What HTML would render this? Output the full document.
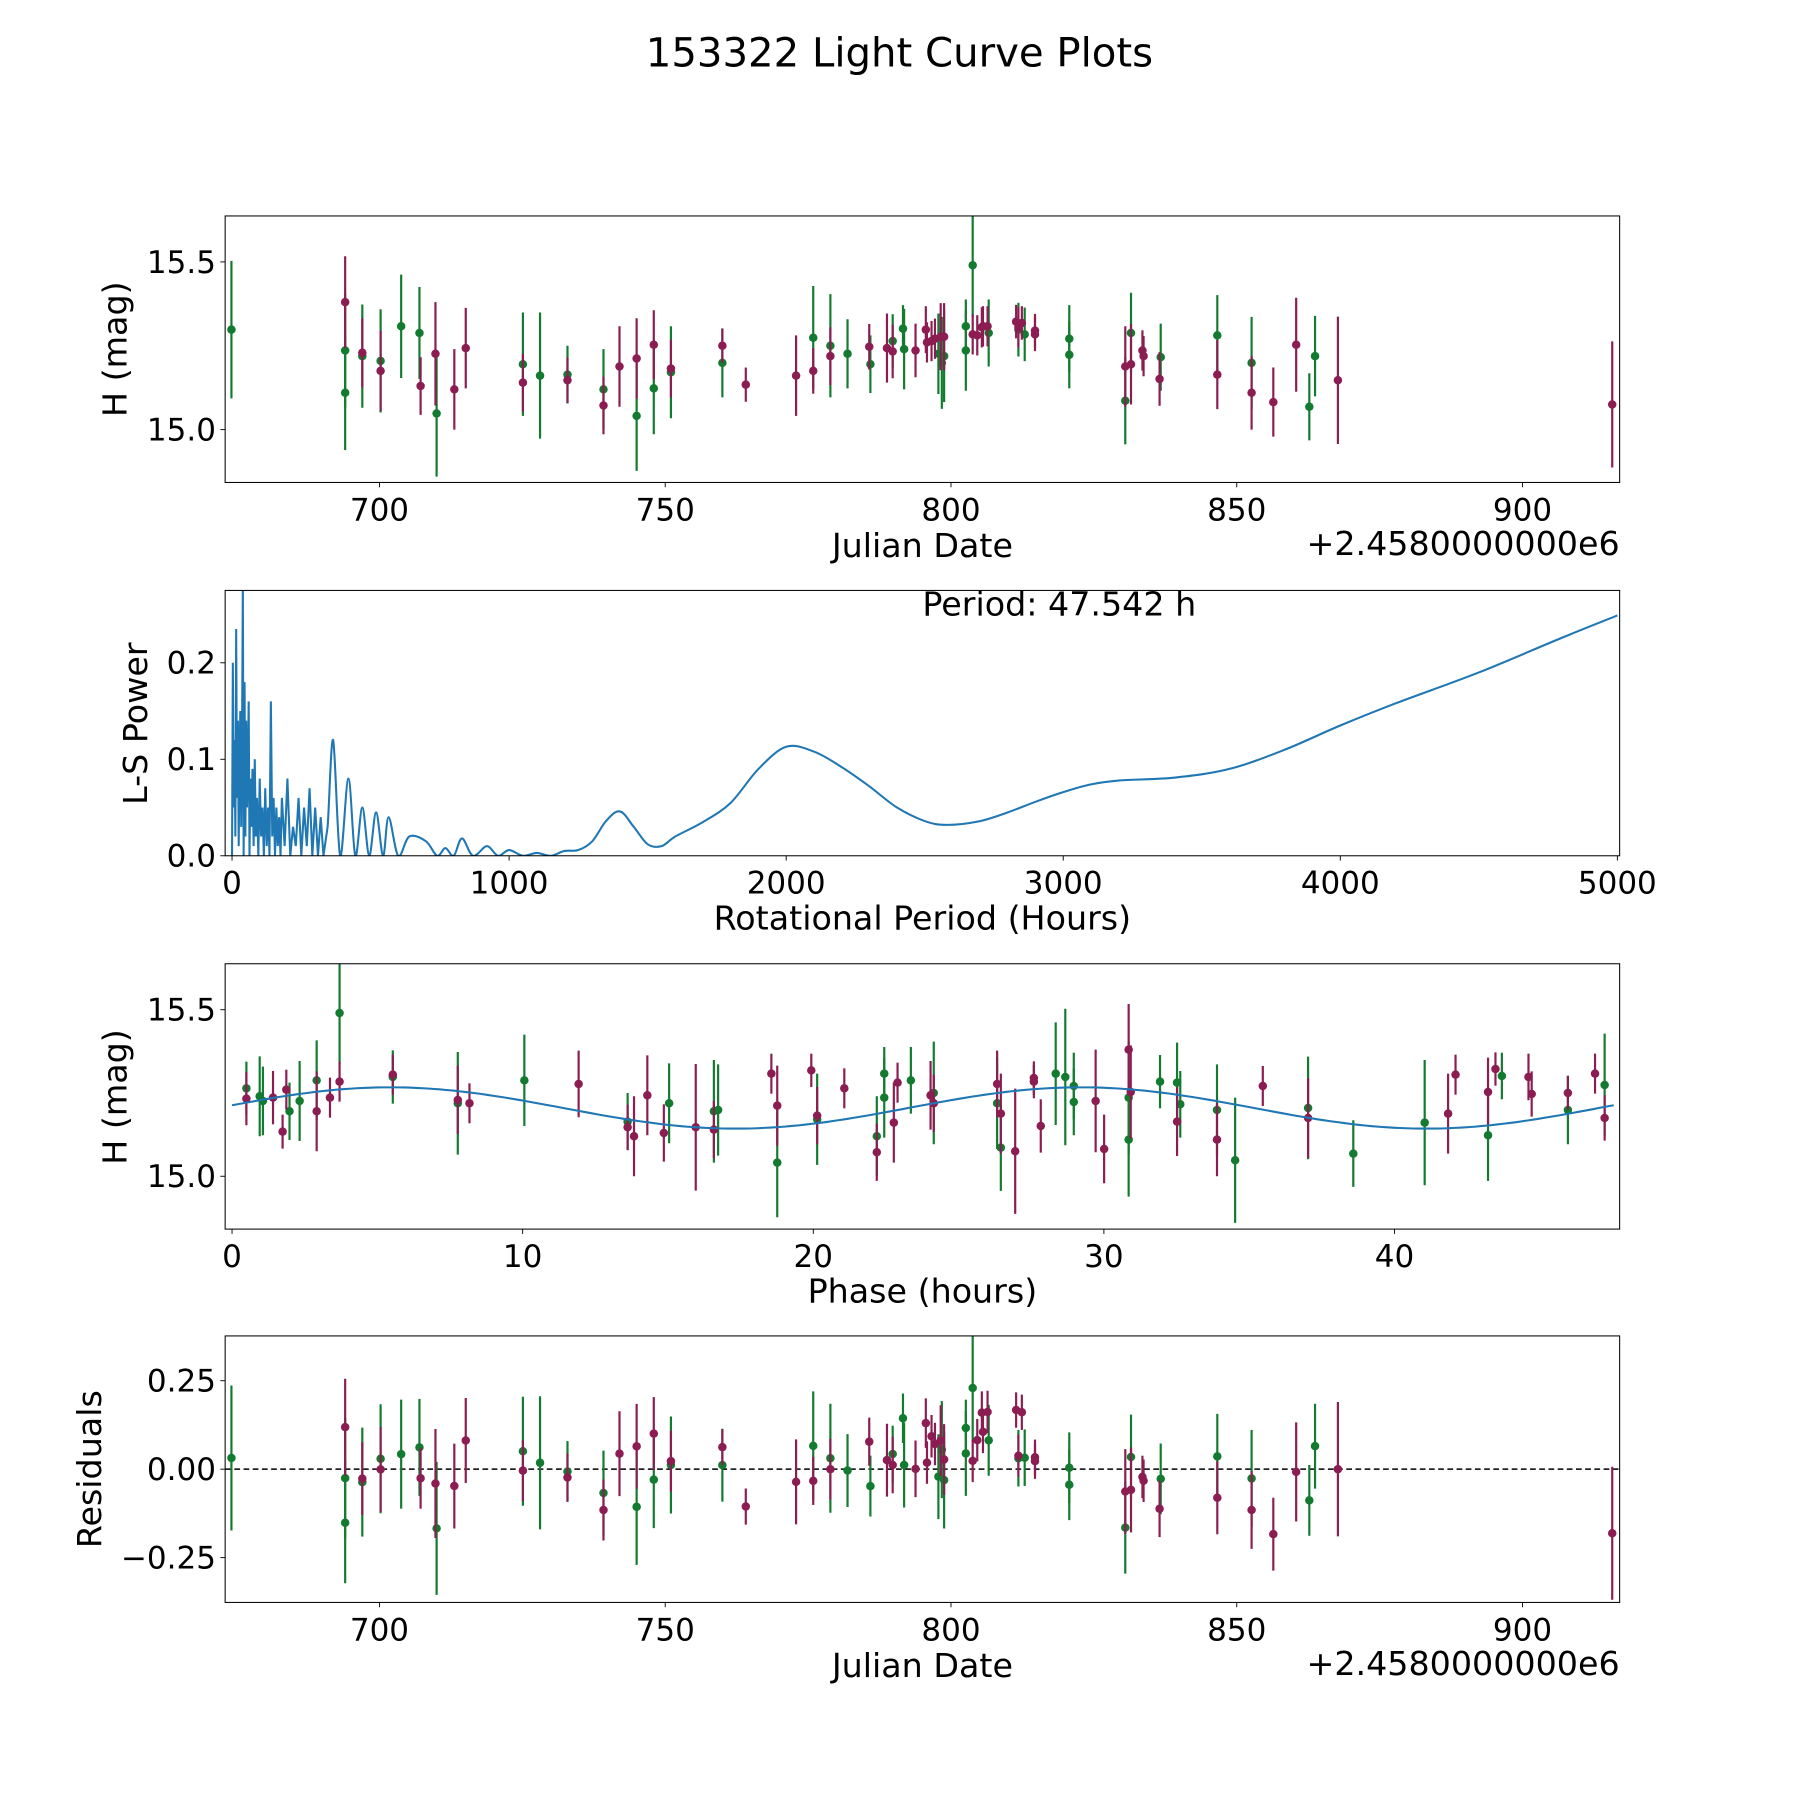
<!DOCTYPE html>
<html><head><meta charset="utf-8"><title>153322 Light Curve Plots</title>
<style>html,body{margin:0;padding:0;background:#fff}svg{display:block}text{font-family:"DejaVu Sans","Liberation Sans",sans-serif;fill:#000}</style>
</head><body>
<svg id="fig" width="1800" height="1800" viewBox="0 0 1567 1567" xmlns="http://www.w3.org/2000/svg">
<rect width="1567" height="1567" fill="#fff"/>
<text x="783" y="58" font-size="35" text-anchor="middle">153322 Light Curve Plots</text>
</svg>
<script>
// ---- data ----
const greenJD=[674.1,694.0,694.0,697.0,700.2,703.8,707.0,710.0,725.1,728.1,732.9,739.2,745.0,748.0,751.0,760.0,775.9,778.9,781.9,785.9,789.8,791.6,791.8,797.8,798.4,798.8,802.6,802.6,803.8,806.6,811.8,812.9,820.7,820.7,830.5,831.5,836.7,846.6,852.6,862.7,863.7];
const greenMag=[15.298,15.236,15.110,15.219,15.205,15.308,15.288,15.048,15.195,15.161,15.164,15.120,15.041,15.123,15.171,15.199,15.274,15.250,15.226,15.195,15.264,15.301,15.240,15.226,15.199,15.219,15.308,15.236,15.490,15.288,15.298,15.284,15.271,15.223,15.086,15.288,15.216,15.281,15.199,15.068,15.219];
const greenErr=[0.205,0.17,0.171,0.154,0.154,0.154,0.137,0.188,0.154,0.188,0.086,0.12,0.164,0.137,0.137,0.103,0.154,0.154,0.103,0.086,0.08,0.07,0.12,0.12,0.137,0.137,0.08,0.12,0.154,0.1,0.08,0.08,0.1,0.1,0.13,0.12,0.1,0.12,0.137,0.1,0.12];
const purpleJD=[694.0,697.0,700.2,707.2,709.8,713.1,715.1,725.1,732.9,739.2,742.0,745.0,748.0,751.0,760.0,764.1,772.9,775.9,778.9,785.7,788.8,789.8,793.8,795.6,795.8,796.6,797.2,798.2,798.8,803.8,804.6,805.4,805.6,806.4,811.4,811.8,812.4,814.7,814.7,830.5,831.5,833.5,833.7,836.5,846.6,852.6,856.4,860.4,867.7,915.7];
const purpleMag=[15.380,15.229,15.175,15.130,15.226,15.120,15.243,15.140,15.147,15.072,15.188,15.212,15.253,15.182,15.250,15.134,15.161,15.175,15.219,15.247,15.243,15.233,15.236,15.298,15.260,15.264,15.271,15.277,15.277,15.284,15.281,15.305,15.308,15.308,15.322,15.305,15.318,15.295,15.284,15.188,15.195,15.236,15.219,15.151,15.164,15.110,15.082,15.253,15.147,15.075];
const purpleErr=[0.137,0.103,0.12,0.086,0.154,0.12,0.12,0.086,0.068,0.086,0.12,0.12,0.103,0.086,0.051,0.051,0.12,0.068,0.086,0.068,0.103,0.08,0.08,0.07,0.06,0.06,0.06,0.1,0.1,0.06,0.06,0.06,0.06,0.06,0.05,0.06,0.05,0.05,0.05,0.12,0.12,0.06,0.06,0.08,0.103,0.11,0.103,0.14,0.19,0.188];
const lsPeriod=[0,3,6,9,12,15,18,21,24,27,30,33,36,39,42,45,48,51,54,57,60,63,66,70,74,78,82,86,90,95,100,105,110,115,120,125,130,135,140,145,150,155,160,165,170,175,180,190,200,210,220,230,240,250,260,270,280,290,300,310,320,330,345,365,390,420,445,470,495,520,545,565,600,640,700,740,770,800,830,870,920,960,1000,1050,1100,1150,1200,1250,1300,1350,1400,1450,1500,1550,1600,1700,1800,1900,2000,2100,2200,2300,2400,2500,2580,2700,2800,2900,3000,3100,3200,3400,3600,3800,4000,4200,4500,4800,5000];
const lsPower=[0,0.2,0.05,0.12,0.02,0.235,0.06,0.14,0.01,0.1,0.15,0.03,0.12,0.28,0,0.18,0.02,0.14,0.05,0.09,0.16,0,0.08,0.03,0.09,0.01,0.1,0.02,0.06,0,0.08,0.02,0.05,0,0.07,0.01,0.05,0,0.16,0.02,0.06,0,0.05,0.01,0.04,0,0.06,0.01,0.08,0,0.03,0.01,0.06,0,0.05,0.01,0.07,0,0.05,0,0.04,0,0.03,0.12,0,0.08,0,0.05,0,0.045,0,0.04,0,0.02,0.015,0,0.008,0,0.018,0,0.01,0,0.006,0,0.003,0,0.005,0.006,0.015,0.036,0.046,0.03,0.012,0.01,0.02,0.035,0.055,0.09,0.113,0.108,0.092,0.072,0.05,0.036,0.032,0.036,0.045,0.056,0.066,0.074,0.078,0.081,0.09,0.11,0.135,0.158,0.19,0.226,0.249];
const period=47.542, modelMean=15.205, modelAmp=0.062, modelShift=-0.5, phaseRef=803.8, phaseAt=3.7;
const jdTicks=[700,750,800,850,900], magTicks=[15.0,15.5], lsXTicks=[0,1000,2000,3000,4000,5000], lsYTicks=[0,0.1,0.2], phTicks=[0,10,20,30,40], resTicks=[-0.25,0,0.25];

// ---- helpers ----
const NS='http://www.w3.org/2000/svg', svg=document.getElementById('fig');
const G='#137b2f', P='#8b1d52', B='#1f77b4';
const TF=27, LF=29;
function mk(tag,attrs,parent){const e=document.createElementNS(NS,tag);for(const k in attrs)e.setAttribute(k,attrs[k]);(parent||svg).appendChild(e);return e;}
function scale(d0,d1,p0,p1){return v=>p0+(v-d0)*(p1-p0)/(d1-d0);}
const L=196,R=1410;
function model(ph){return modelMean+modelAmp*Math.sin(4*Math.PI*(ph-modelShift)/period);}
function phaseOf(jd){let p=((jd-phaseRef)*24+phaseAt)%period;if(p<0)p+=period;return p;}

function axes(name,top,bot,xs,ys,xt,yt,xfmt,yfmt){
  const g=mk('g',{});
  
  
  xt.forEach(v=>{const x=xs(v);
    const t=mk('line',{x1:x,x2:x,y1:bot,y2:bot+4.2,stroke:'#000','stroke-width':0.8},g);
    
    const l=mk('text',{x:x,y:bot+33,'font-size':TF,'text-anchor':'middle'},g);l.textContent=xfmt(v);
    });
  yt.forEach(v=>{const y=ys(v);
    const t=mk('line',{x1:L-4.2,x2:L,y1:y,y2:y,stroke:'#000','stroke-width':0.8},g);
    
    const l=mk('text',{x:L-8,y:y+9.5,'font-size':TF,'text-anchor':'end'},g);l.textContent=yfmt(v);
    });
  return g;
}
function frame(g,top,bot){const r=mk('rect',{x:L,y:top,width:R-L,height:bot-top,fill:'none',stroke:'#000','stroke-width':0.9},g);
  }
function label(g,txt,x,y,rot,name){const t=mk('text',{x:x,y:y,'font-size':LF,'text-anchor':'middle'},g);
  if(rot)t.setAttribute('transform',`rotate(-90 ${x} ${y})`);t.textContent=txt;
  }
function clip(id,top,bot){const c=mk('clipPath',{id:id});mk('rect',{x:L,y:top,width:R-L,height:bot-top},c);}
function errpts(g,xsArr,ysArr,errs,col,xs,ys,cid,name){
  const grp=mk('g',{'clip-path':`url(#${cid})`},g);
  
  xsArr.forEach((xv,i)=>{const x=xs(xv);
    const l=mk('line',{x1:x,x2:x,y1:ys(ysArr[i]-errs[i]),y2:ys(ysArr[i]+errs[i]),stroke:col,'stroke-width':1.9},grp);
    
    const c=mk('circle',{cx:x,cy:ys(ysArr[i]),r:3.7,fill:col},grp);
    });
}
const fmtMag=v=>v.toFixed(1);

// ---- panel 1: light curve ----
(function(){const top=188,bot=420;const xs=scale(673,917,L,R),ys=scale(15.0,15.5,374,228);
  const g=axes('light-curve-panel',top,bot,xs,ys,jdTicks,magTicks,v=>String(v),fmtMag);
  clip('c1',top,bot);
  errpts(g,greenJD,greenMag,greenErr,G,xs,ys,'c1','green-series');
  errpts(g,purpleJD,purpleMag,purpleErr,P,xs,ys,'c1','purple-series');
  frame(g,top,bot);
  label(g,'Julian Date',803,485,false,'x-axis-title');
  const o=mk('text',{x:R,y:483,'font-size':LF,'text-anchor':'end'},g);o.textContent='+2.4580000000e6';
  
  label(g,'H (mag)',110,304,true,'y-axis-title');
})();

// ---- panel 2: periodogram ----
(function(){const top=514,bot=745;const xs=scale(0,5000,202,1408),ys=scale(0,0.2,745,577);
  const g=axes('periodogram-panel',top,bot,xs,ys,lsXTicks,lsYTicks,v=>String(v),v=>v.toFixed(1));
  clip('c2',top,bot);
  const pts=lsPeriod.map((p,i)=>[xs(p),ys(lsPower[i])]);
  let d='M'+pts[0][0].toFixed(1)+','+pts[0][1].toFixed(1);
  for(let i=1;i<pts.length;i++){
    if(lsPeriod[i]<=345){d+='L'+pts[i][0].toFixed(1)+','+pts[i][1].toFixed(1);continue;}
    const p0=pts[Math.max(i-2,0)],p1=pts[i-1],p2=pts[i],p3=pts[Math.min(i+1,pts.length-1)];
    const c1=[p1[0]+(p2[0]-p0[0])/6,p1[1]+(p2[1]-p0[1])/6],c2=[p2[0]-(p3[0]-p1[0])/6,p2[1]-(p3[1]-p1[1])/6];
    d+=`C${c1[0].toFixed(1)},${c1[1].toFixed(1)} ${c2[0].toFixed(1)},${c2[1].toFixed(1)} ${p2[0].toFixed(1)},${p2[1].toFixed(1)}`;
  }
  const pl=mk('path',{d:d,fill:'none',stroke:B,'stroke-width':1.8,'clip-path':'url(#c2)'},g);
  
  frame(g,top,bot);
  const t=mk('text',{x:803,y:536,'font-size':LF},g);t.textContent='Period: 47.542 h';
  
  label(g,'Rotational Period (Hours)',803,809,false,'x-axis-title');
  label(g,'L-S Power',128,630,true,'y-axis-title');
})();

// ---- panel 3: phase ----
(function(){const top=839,bot=1070;const xs=scale(0,40,202,1214),ys=scale(15.0,15.5,1024,879);
  const g=axes('phase-panel',top,bot,xs,ys,phTicks,magTicks,v=>String(v),fmtMag);
  clip('c3',top,bot);
  errpts(g,greenJD.map(phaseOf),greenMag,greenErr,G,xs,ys,'c3','green-phase-series');
  errpts(g,purpleJD.map(phaseOf),purpleMag,purpleErr,P,xs,ys,'c3','purple-phase-series');
  let d='';for(let i=0;i<=200;i++){const ph=period*i/200;d+=(i?'L':'M')+xs(ph).toFixed(1)+','+ys(model(ph)).toFixed(1);}
  const m=mk('path',{d:d,fill:'none',stroke:B,'stroke-width':1.8},g);
  
  frame(g,top,bot);
  label(g,'Phase (hours)',803,1134,false,'x-axis-title');
  label(g,'H (mag)',110,955,true,'y-axis-title');
})();

// ---- panel 4: residuals ----
(function(){const top=1163,bot=1395;const xs=scale(673,917,L,R),ys=scale(0,0.25,1279,1202);
  const g=axes('residuals-panel',top,bot,xs,ys,jdTicks,resTicks,v=>String(v),v=>(v<0?'\u2212':'')+Math.abs(v).toFixed(2));
  clip('c4',top,bot);
  const z=mk('line',{x1:L,x2:R,y1:ys(0),y2:ys(0),stroke:'#000','stroke-width':1.3,'stroke-dasharray':'5,3'},g);
  
  errpts(g,greenJD,greenMag.map((m,i)=>m-model(phaseOf(greenJD[i]))),greenErr,G,xs,ys,'c4','green-residuals');
  errpts(g,purpleJD,purpleMag.map((m,i)=>m-model(phaseOf(purpleJD[i]))),purpleErr,P,xs,ys,'c4','purple-residuals');
  frame(g,top,bot);
  label(g,'Julian Date',803,1460,false,'x-axis-title');
  const o=mk('text',{x:R,y:1458,'font-size':LF,'text-anchor':'end'},g);o.textContent='+2.4580000000e6';
  
  label(g,'Residuals',88,1279,true,'y-axis-title');
})();
</script>
</body></html>
